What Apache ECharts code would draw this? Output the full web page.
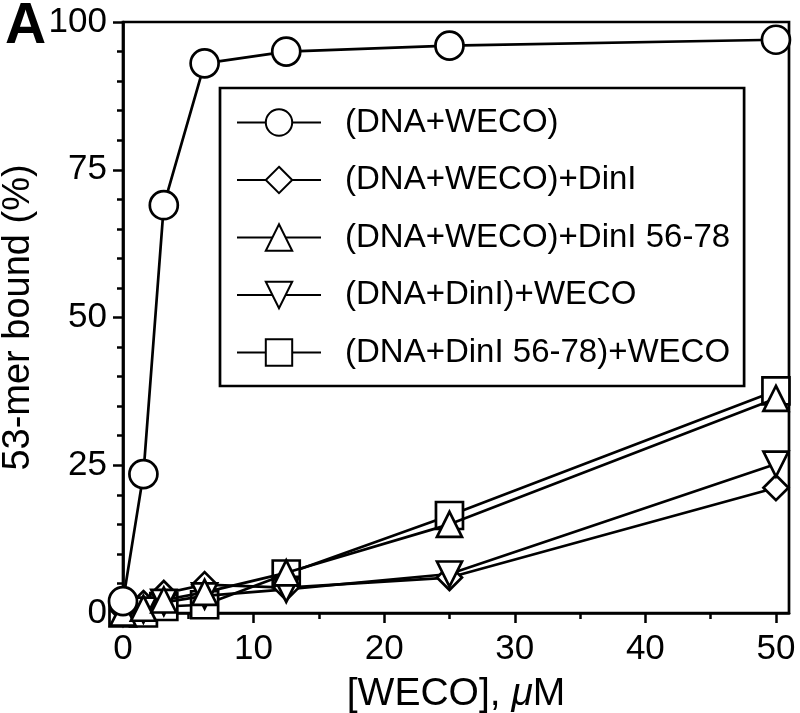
<!DOCTYPE html>
<html>
<head>
<meta charset="utf-8">
<script src="https://cdn.jsdelivr.net/npm/echarts@6/dist/echarts.min.js"></script>
<style>html,body{margin:0;padding:0;background:#fff}#c{width:800px;height:713px}</style>
</head>
<body>
<div id="c"></div>
<script>
var conc = [0, 1.5625, 3.125, 6.25, 12.5, 25, 50];
var seriesNames = ['(DNA+WECO)', '(DNA+WECO)+DinI', '(DNA+WECO)+DinI 56-78', '(DNA+DinI)+WECO', '(DNA+DinI 56-78)+WECO'];
var dnaWeco = [2, 23.5, 69, 93, 95, 96, 97];
var dnaWecoDinI = [0.5, 1.6, 3.3, 4.8, 4.3, 6.0, 21.2];
var dnaWecoDinI5678 = [0, 0.8, 2.2, 3.5, 6.8, 15.0, 36.3];
var dnaDinIWeco = [0, 0.5, 1.8, 2.9, 4.0, 6.6, 25.2];
var dnaDinI5678Weco = [0, 0, 1.1, 1.4, 6.6, 16.5, 37.6];
var xMajorTicks = [0, 10, 20, 30, 40, 50];
var xMinorTicks = [5, 15, 25, 35, 45];

function pts(vals) { return conc.map(function (x, i) { return [x, vals[i]]; }); }

var downTri = 'path://M0,0 L10,0 L5,10 Z';
var FONT = 'Liberation Sans, Arial, Helvetica, sans-serif';

function mk(name, vals, symbol, size, z) {
  return {
    name: name, type: 'line', data: pts(vals), symbol: symbol, symbolSize: size,
    showAllSymbol: true, clip: false, z: z,
    lineStyle: { color: '#000', width: 2.7 },
    itemStyle: { color: '#fff', borderColor: '#000', borderWidth: 2.7 },
    emphasis: { disabled: true }, animation: false
  };
}

var chart = echarts.init(document.getElementById('c'));
chart.setOption({
  animation: false,
  backgroundColor: '#fff',
  title: { text: 'A', left: 0, top: -6, textStyle: { fontFamily: FONT, fontSize: 57, fontWeight: 'bold', color: '#000' } },
  grid: { left: 123, right: 11, top: 22, bottom: 100, show: true, borderColor: '#000', borderWidth: 2.7, backgroundColor: 'transparent', containLabel: false, outerBoundsMode: 'none' },
  legend: {
    orient: 'vertical', left: 220, top: 88,
    data: seriesNames,
    backgroundColor: '#fff', borderColor: '#000', borderWidth: 2.7,
    padding: [18, 14, 17, 16],
    itemWidth: 84, itemHeight: 33, itemGap: 24.5,
    textStyle: { fontFamily: FONT, fontSize: 33, color: '#000', padding: [0, 0, 0, 19] },
    z: 10
  },
  xAxis: [{
    type: 'value', min: 0, max: 51,
    name: '{n|[WECO], }{mu|μ}{n|M}', nameLocation: 'middle', nameGap: 62,
    nameTextStyle: { rich: { n: { fontFamily: FONT, fontSize: 39, color: '#000' }, mu: { fontFamily: FONT, fontSize: 39, fontStyle: 'italic', color: '#000' } } },
    axisLine: { show: true, lineStyle: { color: '#000', width: 2.7 } },
    axisTick: { show: true, inside: false, length: 10, lineStyle: { color: '#000', width: 2.5 }, customValues: xMajorTicks },
    axisLabel: { show: true, margin: 19, fontFamily: FONT, fontSize: 35, color: '#000', customValues: xMajorTicks },
    splitLine: { show: false }
  }, {
    type: 'value', min: 0, max: 51, position: 'bottom', gridIndex: 0,
    axisLine: { show: false },
    axisTick: { show: true, inside: false, length: 6, lineStyle: { color: '#000', width: 2.5 }, customValues: xMinorTicks },
    axisLabel: { show: false },
    splitLine: { show: false }
  }],
  yAxis: {
    type: 'value', min: 0, max: 100, interval: 25,
    name: '53-mer bound (%)', nameLocation: 'middle', nameGap: 72, nameRotate: 90,
    nameTextStyle: { fontFamily: FONT, fontSize: 38, color: '#000' },
    axisLine: { show: true, lineStyle: { color: '#000', width: 2.7 } },
    axisTick: { show: true, inside: false, length: 10, lineStyle: { color: '#000', width: 2.5 } },
    minorTick: { show: true, splitNumber: 5, length: 6, lineStyle: { color: '#000', width: 2.5 } },
    axisLabel: { margin: 16, fontFamily: FONT, fontSize: 35, color: '#000' },
    splitLine: { show: false }
  },
  series: [
    mk(seriesNames[1], dnaWecoDinI, 'diamond', 25, 3),
    mk(seriesNames[3], dnaDinIWeco, downTri, 25, 3),
    mk(seriesNames[4], dnaDinI5678Weco, 'rect', 27, 2),
    mk(seriesNames[2], dnaWecoDinI5678, 'triangle', 25, 3),
    mk(seriesNames[0], dnaWeco, 'circle', 28, 4)
  ]
});
</script>
</body>
</html>
